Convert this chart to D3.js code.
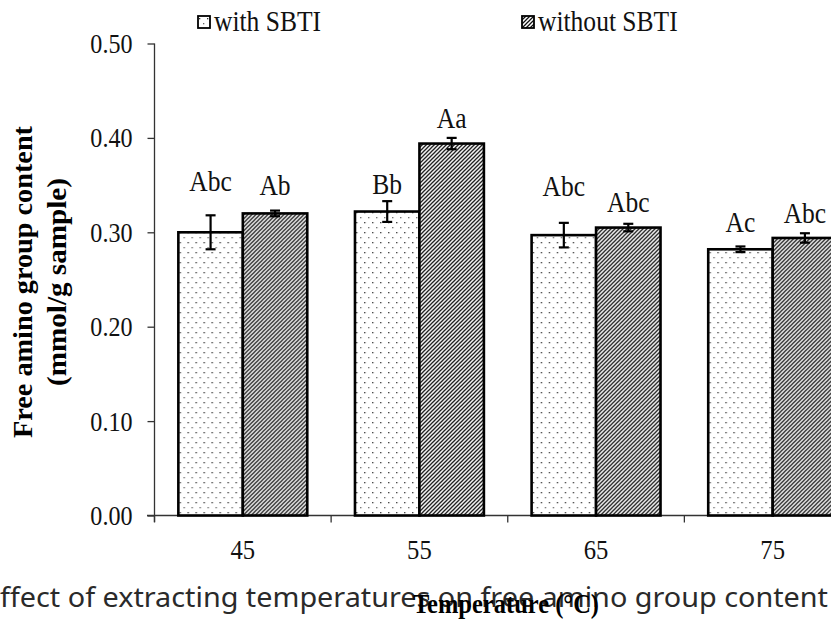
<!DOCTYPE html>
<html>
<head>
<meta charset="utf-8">
<script src="https://cdn.jsdelivr.net/npm/d3@7"></script>
<style>
  html, body { margin: 0; padding: 0; background: #fff; overflow: hidden; }
  svg { display: block; }
</style>
</head>
<body>
<svg id="chart" width="831" height="619"></svg>
<script>
// Extraction temperature (°C) categories
const temps = ["45", "55", "65", "75"];
const seriesNames = ["with SBTI", "without SBTI"];

// Free amino group content (mmol/g sample)
const withSBTI = [0.300, 0.322, 0.297, 0.282];
const withoutSBTI = [0.320, 0.394, 0.305, 0.294];

// Standard deviations
const withErr = [0.018, 0.011, 0.013, 0.003];
const withoutErr = [0.003, 0.006, 0.004, 0.005];

// Significance letters
const withLetters = ["Abc", "Bb", "Abc", "Ac"];
const withoutLetters = ["Ab", "Aa", "Abc", "Abc"];

const yTicks = [0, 0.1, 0.2, 0.3, 0.4, 0.5];

// Gap (px) between each error bar and its letter
const withLabelGap = [24, 7, 27, 14];
const withoutLabelGap = [16, 10, 12, 10];

const svg = d3.select("#chart");
const serif = "'Liberation Serif', 'Times New Roman', serif";

// Horizontally condense text to mimic the narrow serif face
function squeeze(sel, k) {
  sel.each(function () {
    const L = this.getComputedTextLength();
    this.setAttribute("textLength", L * k);
    this.setAttribute("lengthAdjust", "spacingAndGlyphs");
  });
}

// Fill patterns: dotted and diagonal hatch
const defs = svg.append("defs");
const dots = defs.append("pattern")
  .attr("id", "dots").attr("patternUnits", "userSpaceOnUse")
  .attr("width", 8).attr("height", 10);
dots.append("rect").attr("width", 8).attr("height", 10).attr("fill", "#fff");
dots.append("rect").attr("x", 1).attr("y", 2).attr("width", 1.3).attr("height", 1.3).attr("fill", "#333");
dots.append("rect").attr("x", 5).attr("y", 7).attr("width", 1.3).attr("height", 1.3).attr("fill", "#666");

const hatch = defs.append("pattern")
  .attr("id", "hatch").attr("patternUnits", "userSpaceOnUse")
  .attr("width", 4).attr("height", 4);
hatch.append("rect").attr("width", 4).attr("height", 4).attr("fill", "#fff");
hatch.append("path").attr("d", "M-1,1 L1,-1 M0,4 L4,0 M3,5 L5,3")
  .attr("stroke", "#111").attr("stroke-width", 1.25);

const fills = ["url(#dots)", "url(#hatch)"];

// Scales
const y = d3.scaleLinear().domain([0, 0.5]).range([515.5, 43.5]);
const x0 = d3.scaleBand().domain(temps).range([154.5, 861]).paddingInner(0).paddingOuter(0);
const x1 = d3.scaleBand().domain(seriesNames).range([0, x0.bandwidth()]).paddingInner(0).paddingOuter(0.37);

// Y axis
const yAxis = d3.axisLeft(y).tickValues(yTicks).tickFormat(d3.format(".2f")).tickSize(7).tickPadding(15);
const gy = svg.append("g").attr("transform", "translate(154.5,0)").call(yAxis);
gy.select(".domain").attr("stroke", "#333").attr("stroke-width", 1.3).attr("d", "M0,43.5V522");
gy.selectAll(".tick line").attr("stroke", "#333").attr("stroke-width", 1.3);
gy.selectAll(".tick text").attr("font-family", serif).attr("font-size", 28).attr("fill", "#111");
squeeze(gy.selectAll(".tick text"), 0.86);

// X axis: ticks at group boundaries, labels centred under groups
const gx = svg.append("g").attr("transform", "translate(0,515.5)");
gx.append("line").attr("x1", 147).attr("x2", 861).attr("y1", 0).attr("y2", 0)
  .attr("stroke", "#333").attr("stroke-width", 1.3);
gx.selectAll("line.tk").data(temps).join("line").attr("class", "tk")
  .attr("x1", d => x0(d)).attr("x2", d => x0(d)).attr("y1", 0).attr("y2", 7)
  .attr("stroke", "#333").attr("stroke-width", 1.3);
const xl = gx.selectAll("text").data(temps).join("text")
  .attr("x", d => x0(d) + x0.bandwidth() / 2).attr("y", 43)
  .attr("text-anchor", "middle").attr("font-family", serif).attr("font-size", 28).attr("fill", "#111")
  .text(d => d);
squeeze(xl, 0.88);

// Bars
const rows = temps.map((t, i) => ({
  t,
  items: [
    { s: seriesNames[0], v: withSBTI[i], e: withErr[i], lab: withLetters[i], gap: withLabelGap[i], k: 0 },
    { s: seriesNames[1], v: withoutSBTI[i], e: withoutErr[i], lab: withoutLetters[i], gap: withoutLabelGap[i], k: 1 }
  ]
}));

const groups = svg.append("g").selectAll("g").data(rows).join("g")
  .attr("transform", d => `translate(${x0(d.t)},0)`);

groups.selectAll("rect").data(d => d.items).join("rect")
  .attr("x", d => x1(d.s)).attr("width", x1.bandwidth())
  .attr("y", d => y(d.v)).attr("height", d => y(0) - y(d.v))
  .attr("fill", d => fills[d.k]).attr("stroke", "#000").attr("stroke-width", 2.6);

// Error bars
const eb = groups.selectAll("g.err").data(d => d.items).join("g").attr("class", "err")
  .attr("transform", d => `translate(${x1(d.s) + x1.bandwidth() / 2},0)`);
eb.append("line").attr("y1", d => y(d.v + d.e)).attr("y2", d => y(d.v - d.e))
  .attr("stroke", "#000").attr("stroke-width", 2.2);
eb.append("line").attr("x1", -5).attr("x2", 5).attr("y1", d => y(d.v + d.e)).attr("y2", d => y(d.v + d.e))
  .attr("stroke", "#000").attr("stroke-width", 2.2);
eb.append("line").attr("x1", -5).attr("x2", 5).attr("y1", d => y(d.v - d.e)).attr("y2", d => y(d.v - d.e))
  .attr("stroke", "#000").attr("stroke-width", 2.2);

// Significance letters
const lab = groups.selectAll("text.lab").data(d => d.items).join("text").attr("class", "lab")
  .attr("x", d => x1(d.s) + x1.bandwidth() / 2)
  .attr("y", d => y(d.v + d.e) - d.gap)
  .attr("text-anchor", "middle").attr("font-family", serif).attr("font-size", 29).attr("fill", "#111")
  .text(d => d.lab);
squeeze(lab, 0.88);

// Legend
const legendX = [198, 522];
const lg = svg.append("g").selectAll("g").data(seriesNames).join("g")
  .attr("transform", (d, i) => `translate(${legendX[i]},16)`);
lg.append("rect").attr("width", 12).attr("height", 12)
  .attr("fill", (d, i) => fills[i]).attr("stroke", "#000").attr("stroke-width", 1.8);
const lt = lg.append("text").attr("x", 16).attr("y", 15)
  .attr("font-family", serif).attr("font-size", 29).attr("fill", "#111").text(d => d);
squeeze(lt, 0.88);

// Y axis title (two lines)
svg.append("text").attr("transform", "translate(32,282) rotate(-90)")
  .attr("text-anchor", "middle").attr("font-family", serif).attr("font-weight", "bold")
  .attr("font-size", 27).attr("fill", "#000")
  .attr("textLength", 312).attr("lengthAdjust", "spacingAndGlyphs")
  .text("Free amino group content");
svg.append("text").attr("transform", "translate(66,282) rotate(-90)")
  .attr("text-anchor", "middle").attr("font-family", serif).attr("font-weight", "bold")
  .attr("font-size", 27).attr("fill", "#000")
  .attr("textLength", 208).attr("lengthAdjust", "spacingAndGlyphs")
  .text("(mmol/g sample)");

// Figure caption line
svg.append("text").attr("x", -16).attr("y", 607)
  .attr("font-family", "'Noto Sans', 'Open Sans', sans-serif").attr("font-size", 28).attr("fill", "#2a2a2a")
  .attr("textLength", 844).attr("lengthAdjust", "spacingAndGlyphs")
  .text("Effect of extracting temperatures on free amino group content");

// X axis title
svg.append("text").attr("x", 413).attr("y", 613)
  .attr("font-family", serif).attr("font-weight", "bold").attr("font-size", 28).attr("fill", "#000")
  .attr("textLength", 186).attr("lengthAdjust", "spacingAndGlyphs")
  .text("Temperature (°C)");
</script>
</body>
</html>
